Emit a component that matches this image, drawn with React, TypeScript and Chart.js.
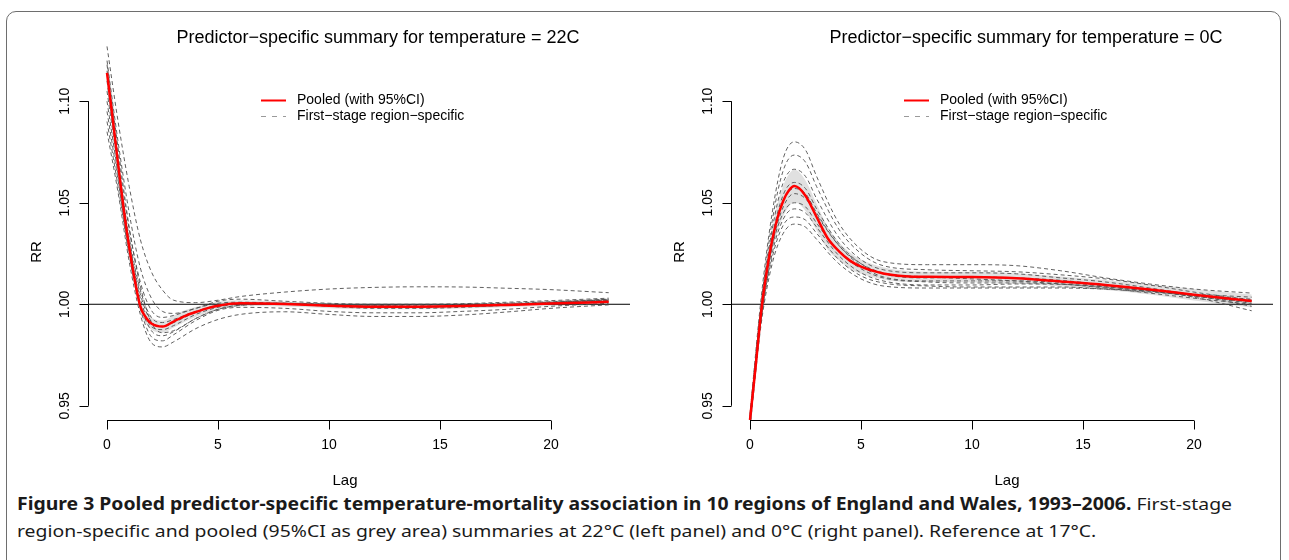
import React, { useEffect, useLayoutEffect, useRef } from 'react';
import { Chart, registerables } from 'chart.js';

Chart.register(...registerables);

// ---------- data ----------
const lagsPooled = [0, 0.25, 0.5, 0.75, 1, 1.25, 1.5, 1.75, 2, 2.5, 3, 3.5, 4, 4.5, 5, 6, 7, 8, 10, 12, 14, 16, 18, 20, 22.6];
const lagsRegion = [0, 0.5, 1, 1.5, 2, 2.5, 3, 4, 5, 6, 8, 10, 12, 14, 16, 18, 20, 22.6];

const xTicks = [0, 5, 10, 15, 20];
const xTickLabels = ['0', '5', '10', '15', '20'];
const yTicks = [0.95, 1.0, 1.05, 1.1];
const yTickLabels = ['0.95', '1.00', '1.05', '1.10'];

const legendLabels = ['Pooled (with 95%CI)', 'First\u2212stage region\u2212specific'];
const titles = [
  'Predictor\u2212specific summary for temperature = 22C',
  'Predictor\u2212specific summary for temperature = 0C',
];

// 22C panel
const pooled22 = [1.114, 1.092, 1.069, 1.047, 1.028, 1.012, 0.999, 0.9935, 0.9905, 0.989, 0.9915, 0.9942, 0.9962, 0.998, 0.9993, 1.0005, 1.0004, 1.0001, 0.9993, 0.9988, 0.9988, 0.9991, 0.9997, 1.0004, 1.0012];
const upper22 = [1.121, 1.098, 1.074, 1.051, 1.0315, 1.015, 1.002, 0.9965, 0.9935, 0.992, 0.9945, 0.997, 0.9987, 1.0002, 1.0013, 1.002, 1.0017, 1.0013, 1.0005, 1.0, 1.0, 1.0003, 1.0009, 1.0017, 1.0028];
const lower22 = [1.107, 1.086, 1.064, 1.043, 1.0245, 1.009, 0.996, 0.9905, 0.9875, 0.986, 0.9885, 0.9914, 0.9937, 0.9958, 0.9973, 0.999, 0.9991, 0.9989, 0.9981, 0.9976, 0.9976, 0.9979, 0.9985, 0.9991, 0.9996];
const regions22 = [
  [1.127, 1.090, 1.058, 1.032, 1.016, 1.007, 1.002, 1.0008, 1.002, 1.0038, 1.006, 1.0075, 1.0083, 1.0086, 1.0085, 1.0079, 1.0072, 1.0057],
  [1.120, 1.080, 1.045, 1.018, 1.003, 0.9965, 0.9955, 0.998, 1.0015, 1.0025, 1.0015, 1.0005, 1.0, 1.0, 1.0003, 1.001, 1.0018, 1.003],
  [1.115, 1.073, 1.037, 1.011, 0.997, 0.9935, 0.9945, 0.998, 1.0005, 1.001, 1.0005, 1.0, 0.9995, 0.9995, 1.0, 1.0005, 1.0012, 1.0025],
  [1.110, 1.070, 1.033, 1.007, 0.9935, 0.991, 0.9925, 0.9965, 0.9995, 1.0005, 1.0005, 0.9995, 0.999, 0.999, 0.9993, 1.0, 1.001, 1.0022],
  [1.105, 1.067, 1.031, 1.005, 0.9915, 0.989, 0.991, 0.996, 0.999, 1.0003, 1.0002, 0.9992, 0.9985, 0.9985, 0.999, 0.9998, 1.0008, 1.002],
  [1.100, 1.064, 1.029, 1.003, 0.989, 0.9875, 0.9895, 0.995, 0.9985, 1.0, 1.0, 0.999, 0.998, 0.998, 0.9985, 0.9995, 1.0007, 1.0025],
  [1.118, 1.077, 1.038, 1.009, 0.991, 0.986, 0.987, 0.993, 0.9975, 0.9995, 1.0, 0.9995, 0.999, 0.9988, 0.999, 0.9995, 1.0005, 1.0015],
  [1.095, 1.061, 1.026, 1.0, 0.987, 0.9845, 0.9865, 0.993, 0.9975, 0.9995, 1.0005, 1.0, 0.9995, 0.999, 0.999, 0.9995, 1.0005, 1.0018],
  [1.090, 1.058, 1.024, 0.998, 0.984, 0.982, 0.985, 0.992, 0.997, 0.9985, 0.998, 0.9965, 0.9958, 0.9958, 0.9965, 0.9975, 0.999, 1.0005],
  [1.085, 1.055, 1.021, 0.995, 0.981, 0.979, 0.9815, 0.988, 0.9925, 0.995, 0.9963, 0.995, 0.994, 0.994, 0.9947, 0.9962, 0.998, 0.9997],
];

// 0C panel
const pooled0 = [0.943, 0.969, 0.996, 1.016, 1.0316, 1.043, 1.051, 1.056, 1.0582, 1.0535, 1.043, 1.0325, 1.0262, 1.0215, 1.0185, 1.0152, 1.0138, 1.0135, 1.0134, 1.0128, 1.0112, 1.0095, 1.0073, 1.0047, 1.0016];
const upper0 = [0.948, 0.974, 1.001, 1.0215, 1.0376, 1.05, 1.0585, 1.064, 1.0662, 1.061, 1.0495, 1.038, 1.0307, 1.0255, 1.022, 1.0182, 1.0165, 1.016, 1.0159, 1.0153, 1.0137, 1.012, 1.0098, 1.0075, 1.0048];
const lower0 = [0.938, 0.964, 0.991, 1.0105, 1.0256, 1.036, 1.0435, 1.048, 1.0502, 1.046, 1.0365, 1.027, 1.0217, 1.0175, 1.015, 1.0122, 1.0111, 1.011, 1.0109, 1.0103, 1.0087, 1.007, 1.0048, 1.0019, 0.9984];
const regions0 = [
  [0.946, 1.003, 1.045, 1.072, 1.080, 1.076, 1.063, 1.040, 1.027, 1.021, 1.0195, 1.0195, 1.019, 1.0165, 1.013, 1.010, 1.0075, 1.0055],
  [0.944, 1.000, 1.041, 1.066, 1.0735, 1.070, 1.058, 1.037, 1.025, 1.019, 1.017, 1.0165, 1.016, 1.0145, 1.0125, 1.0095, 1.006, 1.002],
  [0.945, 0.999, 1.037, 1.060, 1.0665, 1.063, 1.052, 1.033, 1.022, 1.017, 1.0155, 1.0155, 1.015, 1.013, 1.011, 1.008, 1.0045, 0.999],
  [0.942, 0.996, 1.033, 1.054, 1.060, 1.057, 1.047, 1.030, 1.020, 1.015, 1.013, 1.0135, 1.013, 1.0118, 1.0095, 1.0068, 1.0035, 0.9968],
  [0.944, 0.997, 1.032, 1.051, 1.057, 1.0545, 1.045, 1.029, 1.019, 1.0135, 1.0115, 1.0115, 1.0115, 1.0108, 1.009, 1.007, 1.0045, 1.0015],
  [0.941, 0.994, 1.029, 1.048, 1.0545, 1.052, 1.044, 1.029, 1.020, 1.0155, 1.0135, 1.0125, 1.0115, 1.010, 1.008, 1.0055, 1.003, 1.0],
  [0.943, 0.995, 1.028, 1.045, 1.050, 1.048, 1.040, 1.026, 1.0175, 1.013, 1.011, 1.0105, 1.0105, 1.010, 1.0085, 1.0065, 1.004, 1.0005],
  [0.940, 0.992, 1.025, 1.042, 1.047, 1.045, 1.038, 1.024, 1.0155, 1.0115, 1.0095, 1.0095, 1.010, 1.0098, 1.0085, 1.0065, 1.004, 1.001],
  [0.942, 0.993, 1.023, 1.039, 1.043, 1.0415, 1.035, 1.022, 1.014, 1.0105, 1.009, 1.0085, 1.0085, 1.0085, 1.0075, 1.006, 1.0045, 1.0025],
  [0.939, 0.990, 1.020, 1.035, 1.0395, 1.038, 1.032, 1.020, 1.0125, 1.009, 1.008, 1.008, 1.008, 1.008, 1.0075, 1.0065, 1.005, 1.0035],
];

const refLine = [1, 1];
const xRange = [-0.856, 23.56];
const yRange = [0.943, 1.1277];

// ---------- layout constants ----------
const CANVAS_W = 645;
const CANVAS_H = 490;
const FONT = '"Liberation Sans", Arial, Helvetica, sans-serif';

type PanelProps = {
  left: number;
  title: string;
  titleX: number;
  lagX: number;
  pooled: number[];
  upper: number[];
  lower: number[];
  regions: number[][];
};

function toPoints(xs: number[], ys: number[]) {
  return ys.map((y, i) => ({ x: xs[i], y }));
}

function Panel(props: PanelProps) {
  const ref = useRef<HTMLCanvasElement | null>(null);

  useEffect(() => {
    const canvas = ref.current;
    if (!canvas) return;

    const decor = {
      id: 'rDecor',
      afterDraw(chart: any) {
        const { ctx, chartArea } = chart;
        const xs = chart.scales.x;
        const ys = chart.scales.y;
        ctx.save();
        ctx.strokeStyle = '#000';
        ctx.fillStyle = '#000';
        ctx.lineWidth = 1;
        ctx.setLineDash([]);

        // y axis
        const ax = Math.round(chartArea.left) + 0.5;
        const yTop = ys.getPixelForValue(yTicks[yTicks.length - 1]);
        const yBot = ys.getPixelForValue(yTicks[0]);
        ctx.beginPath();
        ctx.moveTo(ax, yBot);
        ctx.lineTo(ax, yTop);
        yTicks.forEach((t) => {
          const py = Math.round(ys.getPixelForValue(t)) + 0.5;
          ctx.moveTo(ax, py);
          ctx.lineTo(ax - 9, py);
        });
        ctx.stroke();
        ctx.font = '14px ' + FONT;
        ctx.textAlign = 'center';
        ctx.textBaseline = 'middle';
        yTicks.forEach((t, i) => {
          const py = ys.getPixelForValue(t);
          ctx.save();
          ctx.translate(ax - 23, py);
          ctx.rotate(-Math.PI / 2);
          ctx.fillText(yTickLabels[i], 0, 0);
          ctx.restore();
        });

        // x axis
        const ay = Math.round(chartArea.bottom) + 0.5;
        const xL = xs.getPixelForValue(xTicks[0]);
        const xR = xs.getPixelForValue(xTicks[xTicks.length - 1]);
        ctx.beginPath();
        ctx.moveTo(xL, ay);
        ctx.lineTo(xR, ay);
        xTicks.forEach((t) => {
          const px = Math.round(xs.getPixelForValue(t)) + 0.5;
          ctx.moveTo(px, ay);
          ctx.lineTo(px, ay + 9);
        });
        ctx.stroke();
        xTicks.forEach((t, i) => {
          ctx.fillText(xTickLabels[i], xs.getPixelForValue(t), ay + 25);
        });

        // axis titles
        ctx.font = '15px ' + FONT;
        ctx.fillText('Lag', props.lagX, 481);
        ctx.save();
        ctx.translate(37, 252);
        ctx.rotate(-Math.PI / 2);
        ctx.fillText('RR', 0, 0);
        ctx.restore();

        // main title
        ctx.font = '18px ' + FONT;
        ctx.fillText(props.title, props.titleX, 38);

        // legend
        const lx = chartArea.left + 173;
        const ly1 = chartArea.top + 55.5;
        const ly2 = chartArea.top + 71.5;
        ctx.lineWidth = 2;
        ctx.strokeStyle = '#ff0000';
        ctx.beginPath();
        ctx.moveTo(lx, ly1);
        ctx.lineTo(lx + 25, ly1);
        ctx.stroke();
        ctx.lineWidth = 1;
        ctx.strokeStyle = '#9a9a9a';
        ctx.setLineDash([5, 6]);
        ctx.beginPath();
        ctx.moveTo(lx, ly2);
        ctx.lineTo(lx + 25, ly2);
        ctx.stroke();
        ctx.setLineDash([]);
        ctx.font = '14px ' + FONT;
        ctx.textAlign = 'left';
        ctx.fillText(legendLabels[0], chartArea.left + 209, ly1);
        ctx.fillText(legendLabels[1], chartArea.left + 209, ly2);
        ctx.restore();
      },
    };

    const datasets: any[] = [
      {
        data: toPoints(lagsPooled, props.upper),
        borderColor: 'rgba(0,0,0,0)',
        borderWidth: 0,
        backgroundColor: '#e0e0e0',
        fill: '+1',
        order: 4,
      },
      {
        data: toPoints(lagsPooled, props.lower),
        borderColor: 'rgba(0,0,0,0)',
        borderWidth: 0,
        fill: false,
        order: 4,
      },
      {
        data: toPoints(xRange, refLine),
        borderColor: '#000',
        borderWidth: 1,
        fill: false,
        tension: 0,
        order: 3,
      },
      ...props.regions.map((r) => ({
        data: toPoints(lagsRegion, r),
        borderColor: 'rgba(80,80,80,0.9)',
        borderWidth: 1,
        borderDash: [4, 3],
        fill: false,
        order: 2,
      })),
      {
        data: toPoints(lagsPooled, props.pooled),
        borderColor: '#ff0000',
        borderWidth: 2.5,
        fill: false,
        order: 1,
      },
    ];

    const chart = new Chart(canvas, {
      type: 'line',
      data: { datasets },
      options: {
        animation: false,
        responsive: false,
        devicePixelRatio: 1,
        clip: 0 as any,
        layout: { padding: { left: 88, right: CANVAS_W - 630, top: 45, bottom: CANVAS_H - 420 } },
        elements: {
          point: { radius: 0, hoverRadius: 0 },
          line: { cubicInterpolationMode: 'monotone' },
        },
        scales: {
          x: { type: 'linear', min: xRange[0], max: xRange[1], display: false },
          y: { type: 'linear', min: yRange[0], max: yRange[1], display: false },
        },
        plugins: {
          legend: { display: false },
          tooltip: { enabled: false },
          title: { display: false },
        },
        events: [],
      },
      plugins: [decor],
    });
    return () => chart.destroy();
  }, []);

  return (
    <canvas
      ref={ref}
      width={CANVAS_W}
      height={CANVAS_H}
      style={{ position: 'absolute', left: props.left, top: 0, width: CANVAS_W, height: CANVAS_H }}
    />
  );
}

function Caption() {
  const boxRef = useRef<HTMLDivElement | null>(null);
  const lineRef = useRef<HTMLDivElement | null>(null);
  useLayoutEffect(() => {
    const box = boxRef.current;
    const line = lineRef.current;
    if (!box || !line) return;
    const w = line.getBoundingClientRect().width;
    if (w > 0) {
      const s = 1215 / w;
      box.style.transform = `scaleX(${s})`;
    }
  }, []);
  const lineStyle: React.CSSProperties = {
    whiteSpace: 'nowrap',
    display: 'inline-block',
    lineHeight: '27px',
    height: 27,
  };
  return (
    <div
      ref={boxRef}
      style={{
        position: 'absolute',
        left: 17,
        top: 490,
        transformOrigin: '0 0',
        fontFamily: '"Noto Sans", "Open Sans", sans-serif',
        fontSize: 17,
        color: '#1a1a1a',
      }}
    >
      <div ref={lineRef} style={lineStyle}>
        <b>
          Figure 3 Pooled predictor-specific temperature-mortality association in 10 regions of England and Wales,
          1993–2006.
        </b>{' '}
        First-stage
      </div>
      <br />
      <div style={lineStyle}>
        region-specific and pooled (95%CI as grey area) summaries at 22°C (left panel) and 0°C (right panel). Reference
        at 17°C.
      </div>
    </div>
  );
}

export default function App() {
  return (
    <div
      style={{
        position: 'fixed',
        left: 0,
        top: 0,
        width: 1289,
        height: 560,
        overflow: 'hidden',
        background: '#fff',
      }}
    >
      <div
        style={{
          position: 'absolute',
          left: 6,
          top: 11,
          width: 1275,
          height: 620,
          border: '1.5px solid #6e6e6e',
          borderRadius: 10,
          boxSizing: 'border-box',
        }}
      />
      <Panel
        left={0}
        title={titles[0]}
        titleX={378}
        lagX={345}
        pooled={pooled22}
        upper={upper22}
        lower={lower22}
        regions={regions22}
      />
      <Panel
        left={643}
        title={titles[1]}
        titleX={383}
        lagX={364}
        pooled={pooled0}
        upper={upper0}
        lower={lower0}
        regions={regions0}
      />
      <Caption />
    </div>
  );
}
